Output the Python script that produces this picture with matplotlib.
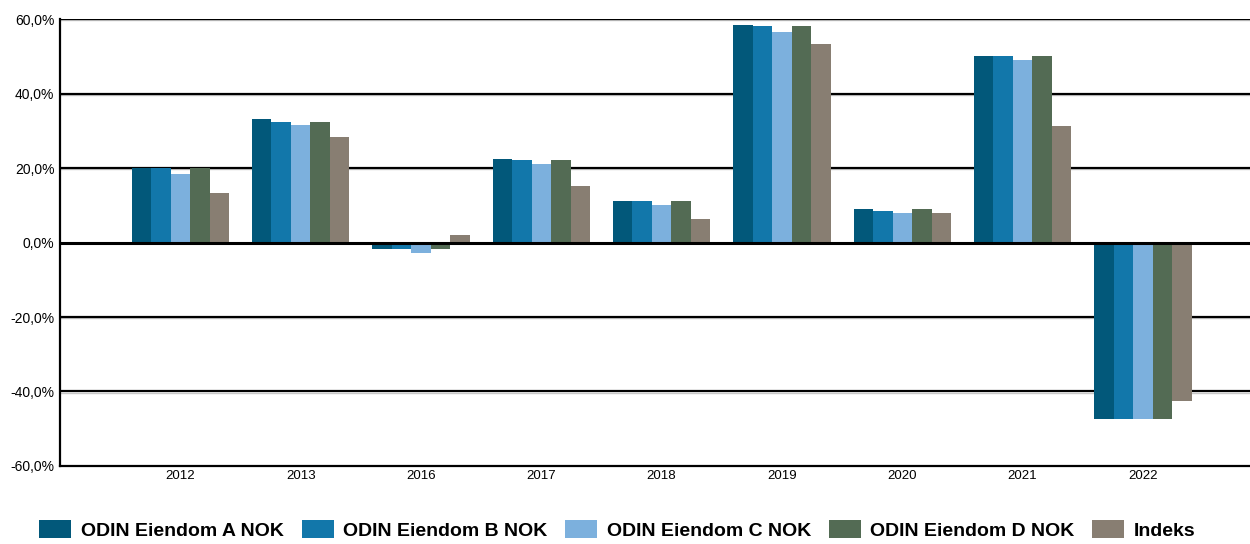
import matplotlib
matplotlib.use("Agg")
import matplotlib.pyplot as plt
import numpy as np

years = ["2012", "2013", "2016", "2017", "2018", "2019", "2020", "2021", "2022"]
series_names = ["ODIN Eiendom A NOK", "ODIN Eiendom B NOK", "ODIN Eiendom C NOK", "ODIN Eiendom D NOK", "Indeks"]
fund_a = [19.9, 33.1, -1.8, 22.4, 11.1, 58.5, 9.0, 50.2, -47.4]
fund_b = [20.0, 32.3, -1.8, 22.1, 11.1, 58.0, 8.5, 50.2, -47.4]
fund_c = [18.3, 31.5, -2.9, 21.1, 10.1, 56.4, 7.9, 49.1, -47.4]
fund_d = [20.0, 32.3, -1.8, 22.1, 11.1, 58.0, 9.0, 50.2, -47.4]
indeks = [13.4, 28.3, 1.9, 15.2, 6.3, 53.4, 7.9, 31.4, -42.6]
colors = ["#02587A", "#1277AA", "#7CB0DD", "#536B54", "#887E72"]
yticks = [-60, -40, -20, 0, 20, 40, 60]

fig = plt.figure(figsize=(12.5, 5.44), dpi=100)
ax = fig.add_axes([0.048, 0.1434, 0.952, 0.8216])
x = np.arange(len(years))
w = 0.162
all_series = [fund_a, fund_b, fund_c, fund_d, indeks]
for i, (vals, name, c) in enumerate(zip(all_series, series_names, colors)):
    ax.bar(x + (i - 2) * w, vals, width=w, color=c, label=name, zorder=3, linewidth=0)

for yv in yticks:
    if yv == 0:
        ax.axhline(yv, color="black", lw=2.2, zorder=4)
    elif yv != -60:
        ax.axhline(yv, color="black", lw=1.6, zorder=1)
        ax.axhline(yv - 0.35, color="#c8c8c8", lw=1.0, zorder=0.5)

ax.set_ylim(-60, 60)
ax.set_xlim(-1.0, 8.89)
ax.set_yticks(yticks)
ax.set_yticklabels([f"{v},0%" for v in yticks], fontsize=10, family="Liberation Sans")
ax.set_xticks(x)
ax.set_xticklabels(years, fontsize=9.5, family="Liberation Sans")
ax.tick_params(length=0, pad=3)
ax.tick_params(axis="y", pad=4)
for s in ["top", "right"]:
    ax.spines[s].set_visible(False)
ax.spines["left"].set_linewidth(1.6)
ax.spines["bottom"].set_linewidth(1.6)

leg = fig.legend(loc="center", ncol=5, frameon=False, bbox_to_anchor=(0.494, 0.026),
                 prop={"family": "Liberation Sans", "weight": "bold", "size": 14},
                 handlelength=1.65, handleheight=1.0, columnspacing=0.9, handletextpad=0.5,
                 borderpad=0, borderaxespad=0)
fig.savefig("out.png", dpi=100)
